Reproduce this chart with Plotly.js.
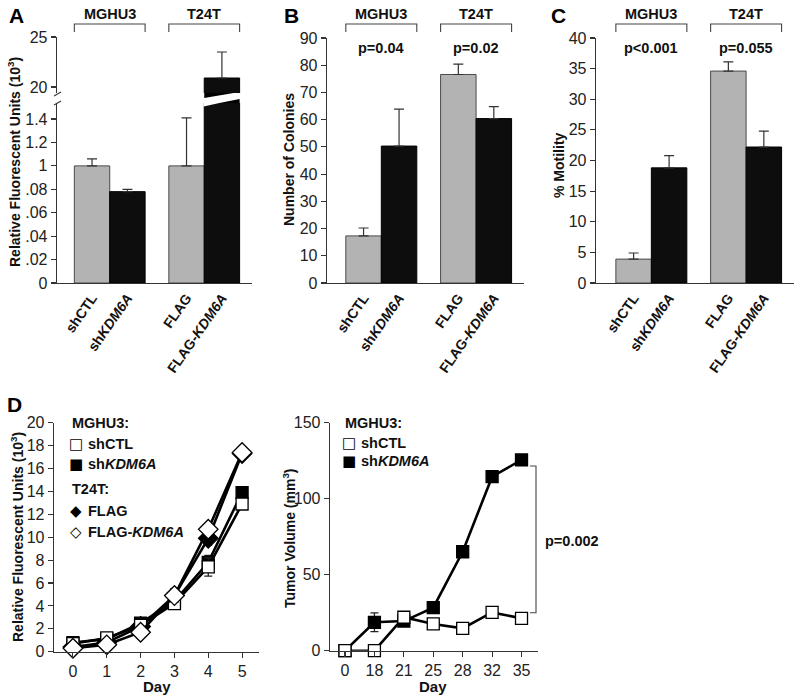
<!DOCTYPE html>
<html><head><meta charset="utf-8">
<script src="https://cdn.plot.ly/plotly-3.0.1.min.js"></script>
<style>html,body{margin:0;padding:0;background:#fff}#chart{width:800px;height:700px}</style>
</head><body><div id="chart"></div>
<script>
// ---------- data ----------
const barLabels = ['shCTL', 'sh<i>KDM6A</i>', 'FLAG', 'FLAG-<i>KDM6A</i>'];
const cellLines = ['MGHU3', 'T24T'];
const barGroup = [0, 0, 1, 1];
const barMember = [0, 1, 0, 1];

const rfuMean = [1.0, 0.78, 1.0, 20.9];
const rfuErr = [0.06, 0.02, 0.41, 2.6];
const rfuLowTicks = [0, 0.2, 0.4, 0.6, 0.8, 1.0, 1.2, 1.4];
const rfuLowTickText = ['0', '.02', '.04', '.06', '.08', '1', '1.2', '1.4'];
const rfuHighTicks = [20, 25];

const colonyMean = [17.3, 50.3, 76.6, 60.4];
const colonyErr = [2.9, 13.6, 3.8, 4.4];
const colonyP = ['p=0.04', 'p=0.02'];

const motilityMean = [3.9, 18.8, 34.6, 22.2];
const motilityErr = [1.0, 2.0, 1.5, 2.6];
const motilityP = ['p<0.001', 'p=0.055'];

const growthDays = [0, 1, 2, 3, 4, 5];
const growthShCTL = [0.7, 1.2, 2.3, 4.2, 7.4, 12.9];
const growthShCTLErr = [0.2, 0.2, 0.2, 0.3, 0.8, 0.4];
const growthShKDM6A = [0.8, 1.1, 2.5, 4.4, 7.8, 13.9];
const growthShKDM6AErr = [0.2, 0.2, 0.3, 0.3, 0.6, 0.5];
const growthFLAG = [0.4, 0.8, 2.2, 4.9, 9.9, 17.3];
const growthFLAGErr = [0.1, 0.1, 0.2, 0.6, 0.6, 0.3];
const growthFLAGKDM6A = [0.3, 0.6, 1.7, 4.9, 10.7, 17.4];
const growthFLAGKDM6AErr = [0.1, 0.1, 0.2, 0.6, 0.3, 0.3];

const tumorDays = ['0', '18', '21', '25', '28', '32', '35'];
const tumorShCTL = [0, 0, 22.0, 17.6, 14.7, 25.2, 21.3];
const tumorShCTLErr = [0, 0, 1.0, 1.0, 1.0, 1.2, 1.2];
const tumorShKDM6A = [0, 18.7, 19.5, 28.3, 65.1, 114.5, 125.5];
const tumorShKDM6AErr = [0, 6.2, 1.0, 1.5, 1.5, 2.0, 3.5];
const tumorP = 'p=0.002';

// ---------- helpers ----------
const F = 'Liberation Sans, Arial, Helvetica, sans-serif';
const W = 800, H = 700;
const px = v => v / W;
const py = v => 1 - v / H;
const GROUP_STEP = 2.67;
const barPos = barGroup.map((g, i) => g * GROUP_STEP + barMember[i]);
const GRAY = '#b3b3b3', BLACK = '#0d0d0d', AX = '#333';
const barColors = barMember.map(m => m === 0 ? GRAY : BLACK);
const barLineColors = barMember.map(m => m === 0 ? '#4a4a4a' : '#000');

function barTrace(vals, errs, xa, ya) {
  return {
    type: 'bar', x: barPos, y: vals, width: 1, xaxis: xa, yaxis: ya,
    marker: {color: barColors, line: {color: barLineColors, width: 1}},
    error_y: {type: 'data', array: errs, arrayminus: errs.map(() => 0), symmetric: false,
      color: '#333', thickness: 1.2, width: 5},
    hoverinfo: 'skip', showlegend: false
  };
}

const traces = [
  barTrace(rfuMean, rfuErr, 'x', 'y'),
  barTrace(rfuMean, rfuErr, 'x', 'y2'),
  barTrace(colonyMean, colonyErr, 'x3', 'y3'),
  barTrace(motilityMean, motilityErr, 'x4', 'y4')
];

function lineTrace(x, y, err, symbol, fill, size, xa, ya) {
  return {
    type: 'scatter', mode: 'lines+markers', x: x, y: y, xaxis: xa, yaxis: ya,
    line: {color: '#000', width: 2.6},
    marker: {symbol: symbol, size: size, color: fill, line: {color: '#000', width: 1.3}},
    error_y: {type: 'data', array: err, color: '#222', thickness: 1.3, width: 4},
    showlegend: false, hoverinfo: 'skip', cliponaxis: false
  };
}
traces.push(
  lineTrace(growthDays, growthFLAG, growthFLAGErr, 'diamond', '#000', 15, 'x5', 'y5'),
  lineTrace(growthDays, growthShKDM6A, growthShKDM6AErr, 'square', '#000', 12, 'x5', 'y5'),
  lineTrace(growthDays, growthShCTL, growthShCTLErr, 'square', '#fff', 12, 'x5', 'y5'),
  lineTrace(growthDays, growthFLAGKDM6A, growthFLAGKDM6AErr, 'diamond', '#fff', 15, 'x5', 'y5'),
  lineTrace(tumorDays, tumorShKDM6A, tumorShKDM6AErr, 'square', '#000', 12, 'x6', 'y6'),
  lineTrace(tumorDays, tumorShCTL, tumorShCTLErr, 'square', '#fff', 12, 'x6', 'y6')
);

// ---------- axes ----------
const tickFont = {family: F, size: 16, color: '#222'};
const base = {showline: true, linecolor: AX, linewidth: 1.3, ticks: 'outside', ticklen: 5,
  tickcolor: AX, tickwidth: 1.1, showgrid: false, zeroline: false, tickfont: tickFont, fixedrange: true};
const catX = (dom, rng, anchor) => Object.assign({}, base, {
  domain: dom, range: rng, anchor: anchor, tickvals: barPos, ticktext: barLabels,
  tickangle: -55, ticks: '', tickfont: {family: F, size: 14, color: '#111', weight: 'bold'}
});

const layout = {
  width: W, height: H, margin: {l: 0, r: 0, t: 0, b: 0},
  paper_bgcolor: '#fff', plot_bgcolor: 'rgba(0,0,0,0)',
  font: {family: F, color: '#111'}, showlegend: false, bargap: 0,
  xaxis: catX([px(57), px(252)], [-0.99, 4.52], 'y'),
  yaxis: Object.assign({}, base, {domain: [py(283), py(103)], range: [0, 1.537], anchor: 'x',
    tickvals: rfuLowTicks, ticktext: rfuLowTickText}),
  yaxis2: Object.assign({}, base, {domain: [py(93), py(37)], range: [19.4, 25], anchor: 'x',
    tickvals: rfuHighTicks}),
  xaxis3: catX([px(327), px(524)], [-1.03, 4.52], 'y3'),
  yaxis3: Object.assign({}, base, {domain: [py(283), py(38)], range: [0, 90], dtick: 10, anchor: 'x3'}),
  xaxis4: catX([px(596), px(794)], [-1.06, 4.52], 'y4'),
  yaxis4: Object.assign({}, base, {domain: [py(283), py(38)], range: [0, 40], dtick: 5, anchor: 'x4'}),
  xaxis5: Object.assign({}, base, {domain: [px(54), px(259)], range: [-0.56, 5.5], dtick: 1, anchor: 'y5'}),
  yaxis5: Object.assign({}, base, {domain: [py(651.7), py(422.7)], range: [0, 20], dtick: 2, anchor: 'x5'}),
  xaxis6: Object.assign({}, base, {domain: [px(330), px(538)], type: 'category', range: [-0.51, 6.56], anchor: 'y6'}),
  yaxis6: Object.assign({}, base, {domain: [py(650.7), py(422.7)], range: [0, 150], dtick: 50, anchor: 'x6'}),
  annotations: [],
  shapes: []
};

const ann = (o) => layout.annotations.push(Object.assign({showarrow: false, xref: 'paper', yref: 'paper',
  xanchor: 'center', yanchor: 'middle',
  font: {family: F, size: 14, color: '#111', weight: 'bold'}}, o));

// panel letters
[['A', 16, 15], ['B', 291, 15], ['C', 558, 15], ['D', 14, 404]].forEach(([t, x, y]) =>
  ann({text: '<b>' + t + '</b>', x: px(x), y: py(y), font: {family: F, size: 21, color: '#000'}}));

// y titles
ann({text: '<b>Relative Fluorescent Units (10<sup>3</sup>)</b>', x: px(14), y: py(162), textangle: -90});
ann({text: '<b>Number of Colonies</b>', x: px(289), y: py(160), textangle: -90});
ann({text: '<b>% Motility</b>', x: px(559), y: py(165), textangle: -90});
ann({text: '<b>Relative Fluorescent Units (10<sup>3</sup>)</b>', x: px(17), y: py(537), textangle: -90});
ann({text: '<b>Tumor Volume (mm<sup>3</sup>)</b>', x: px(289), y: py(538), textangle: -90});
ann({text: '<b>Day</b>', x: px(157), y: py(686), font: {family: F, size: 15, color: '#111', weight: 'bold'}});
ann({text: '<b>Day</b>', x: px(433), y: py(686), font: {family: F, size: 15, color: '#111', weight: 'bold'}});

// group brackets, labels and p-values for A/B/C
const barPanels = [['x', null], ['x3', colonyP], ['x4', motilityP]];
barPanels.forEach(([xa, pv]) => {
  cellLines.forEach((name, g) => {
    const l = g * GROUP_STEP - 0.5, r = g * GROUP_STEP + 1.5, c = g * GROUP_STEP + 0.5;
    layout.shapes.push({type: 'path', xref: xa, yref: 'paper',
      path: `M ${l},${py(32)} L ${l},${py(24)} L ${r},${py(24)} L ${r},${py(32)}`,
      line: {color: '#444', width: 1.1}});
    ann({text: '<b>' + name + '</b>', xref: xa, x: c, y: py(14), font: {family: F, size: 14.5, color: '#111', weight: 'bold'}});
    if (pv) ann({text: '<b>' + pv[g] + '</b>', xref: xa, x: c, y: py(48), font: {family: F, size: 14.5, color: '#111', weight: 'bold'}});
  });
});

// axis break on panel A
const bp = barPos[3], bl = bp - 0.5, br = bp + 0.5;
layout.shapes.push(
  {type: 'path', xref: 'x', yref: 'paper', path: `M ${bl},${py(93)} L ${bl},${py(98)} L ${bl + 0.83},${py(93)} Z`,
    fillcolor: '#000', line: {width: 0}},
  {type: 'path', xref: 'x', yref: 'paper', path: `M ${bl + 0.43},${py(103)} L ${br},${py(103)} L ${br},${py(99)} Z`,
    fillcolor: '#000', line: {width: 0}},
  {type: 'path', xref: 'x', yref: 'paper', path: `M ${bl - 0.02},${py(103)} L ${bl - 0.02},${py(106.5)} L ${bl + 0.43},${py(103)} Z`,
    fillcolor: '#fff', line: {width: 0}},
  {type: 'line', xref: 'paper', yref: 'paper', x0: px(54), y0: py(96), x1: px(61), y1: py(92), line: {color: AX, width: 1.1}},
  {type: 'line', xref: 'paper', yref: 'paper', x0: px(54), y0: py(105), x1: px(61), y1: py(101), line: {color: AX, width: 1.1}}
);

// legends for panel D (as text)
const legFont = {family: F, size: 14.5, color: '#111', weight: 'bold'};
const symFont = {family: 'DejaVu Sans, sans-serif', size: 15, color: '#000'};
function legendBlock(x0, rows) {
  rows.forEach(([sym, text, y]) => {
    if (sym) {
      ann({text: sym, x: px(x0 + 6), y: py(y), xanchor: 'center', font: symFont});
      ann({text: '<b>' + text + '</b>', x: px(x0 + 16), y: py(y), xanchor: 'left', font: legFont});
    } else {
      ann({text: '<b>' + text + '</b>', x: px(x0), y: py(y), xanchor: 'left', font: legFont});
    }
  });
}
legendBlock(70, [
  [null, cellLines[0] + ':', 423],
  ['\u25A1', barLabels[0], 444],
  ['\u25A0', barLabels[1], 464],
  [null, cellLines[1] + ':', 489],
  ['\u25C6', barLabels[2], 511],
  ['\u25C7', barLabels[3], 532]
]);
legendBlock(343, [
  [null, cellLines[0] + ':', 423],
  ['\u25A1', barLabels[0], 443],
  ['\u25A0', barLabels[1], 461]
]);

// p-value bracket panel D right
layout.shapes.push({type: 'path', xref: 'paper', yref: 'y6',
  path: `M ${px(530)},121.5 L ${px(536)},121.5 L ${px(536)},25 L ${px(530)},25`,
  line: {color: '#444', width: 1.1}});
ann({text: '<b>' + tumorP + '</b>', x: px(543), y: py(541), xanchor: 'left', font: {family: F, size: 14.5, color: '#111', weight: 'bold'}});

Plotly.newPlot('chart', traces, layout, {staticPlot: true, displayModeBar: false});
</script></body></html>
